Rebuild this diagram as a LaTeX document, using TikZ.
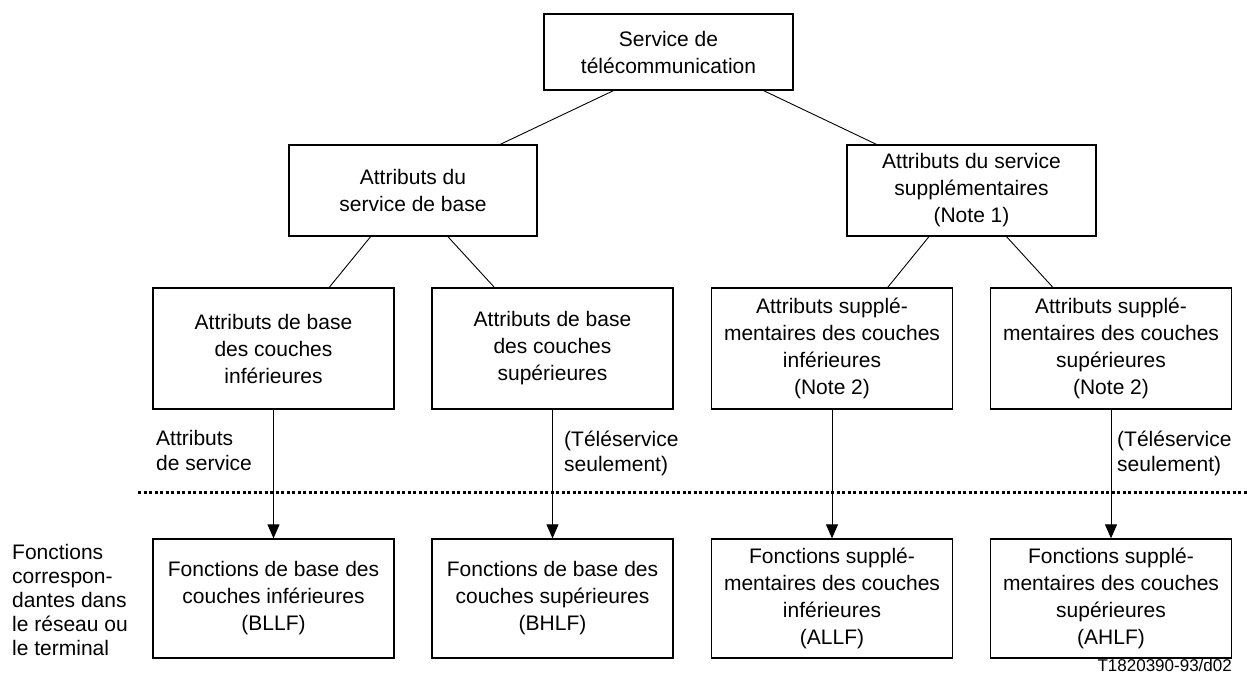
\documentclass[tikz,border=0pt]{standalone}
\usepackage{fontspec}
\setmainfont{Liberation Sans}
\usetikzlibrary{arrows.meta}
\usetikzlibrary{calc}

\begin{document}
\begin{tikzpicture}[x=1pt,y=-1pt,
  box/.style={draw, line width=1.3pt, align=center, inner sep=0pt, font=\fontsize{21}{27}\selectfont},
  link/.style={line width=0.9pt},
  flow/.style={line width=1pt, -{Triangle[width=12pt,length=14pt]}},
  note/.style={anchor=west, align=left, inner sep=0pt, font=\fontsize{21}{25}\selectfont}]
\useasboundingbox (0,0) rectangle (1247,675);
%%% Draws upper part
% draws top and second row
\node[box, minimum width=249, minimum height=76] (serv) at (668.5,52) {Service de\\télécommunication};
\node[box, minimum width=248, minimum height=91] (attbase) at (413,190.5) {Attributs du\\service de base};
\node[box, minimum width=249, minimum height=91] (attsupp) at (971.5,190.5) {Attributs du service\\supplémentaires\\(Note 1)};
% draws third row
\node[box, minimum width=241, minimum height=121] (abinf) at (273.5,348.5) {Attributs de base\\des couches\\inférieures};
\node[box, minimum width=241, minimum height=121] (absup) at (552.5,348.5) {Attributs de base\\des couches\\supérieures};
\node[box, minimum width=241, minimum height=121] (asinf) at (832,348.5) {Attributs supplé-\\mentaires des couches\\inférieures\\(Note 2)};
\node[box, minimum width=241, minimum height=121] (assup) at (1111,348.5) {Attributs supplé-\\mentaires des couches\\supérieures\\(Note 2)};
% draws tree lines
\draw[link] ($(serv.south west)!.28!(serv.south east)$) -- ($(attbase.north west)!.85!(attbase.north east)$);
\draw[link] ($(serv.south west)!.88!(serv.south east)$) -- ($(attsupp.north west)!.12!(attsupp.north east)$);
\draw[link] ($(attbase.south west)!.33!(attbase.south east)$) -- ($(abinf.north west)!.73!(abinf.north east)$);
\draw[link] ($(attbase.south west)!.64!(attbase.south east)$) -- ($(absup.north west)!.26!(absup.north east)$);
\draw[link] ($(attsupp.south west)!.33!(attsupp.south east)$) -- ($(asinf.north west)!.73!(asinf.north east)$);
\draw[link] ($(attsupp.south west)!.64!(attsupp.south east)$) -- ($(assup.north west)!.26!(assup.north east)$);
%%% Draws lower part
% draws function boxes
\node[box, minimum width=241, minimum height=119] (fbinf) at (273.5,598.5) {Fonctions de base des\\couches inférieures\\(BLLF)};
\node[box, minimum width=241, minimum height=119] (fbsup) at (552.5,598.5) {Fonctions de base des\\couches supérieures\\(BHLF)};
\node[box, minimum width=241, minimum height=119] (fsinf) at (832,598.5) {Fonctions supplé-\\mentaires des couches\\inférieures\\(ALLF)};
\node[box, minimum width=241, minimum height=119] (fssup) at (1111,598.5) {Fonctions supplé-\\mentaires des couches\\supérieures\\(AHLF)};
% draws arrows
\draw[flow] (abinf) -- (fbinf);
\draw[flow] (absup) -- (fbsup);
\draw[flow] (asinf) -- (fsinf);
\draw[flow] (assup) -- (fssup);
% draws dotted border
\coordinate (dotl) at (138,492);
\coordinate (dotr) at (1247,492);
\draw[line width=3pt, dash pattern=on 3pt off 2.5pt] (dotl) -- (dotr);
% label arrows and rows
\node[note] (attserv) at (156,450.5) {Attributs\\de service};
\node[note] (teleb) at (564,453) {(Téléservice\\seulement)};
\node[note] (teles) at (1117,453) {(Téléservice\\seulement)};
\node[note, font=\fontsize{21}{24}\selectfont] (fcorr) at (12,600) {Fonctions\\correspon-\\dantes dans\\le réseau ou\\le terminal};
\node[anchor=east, inner sep=0pt, font=\fontsize{17}{20}\selectfont] (tag) at (1232,665) {T1820390-93/d02};
\end{tikzpicture}
\end{document}
